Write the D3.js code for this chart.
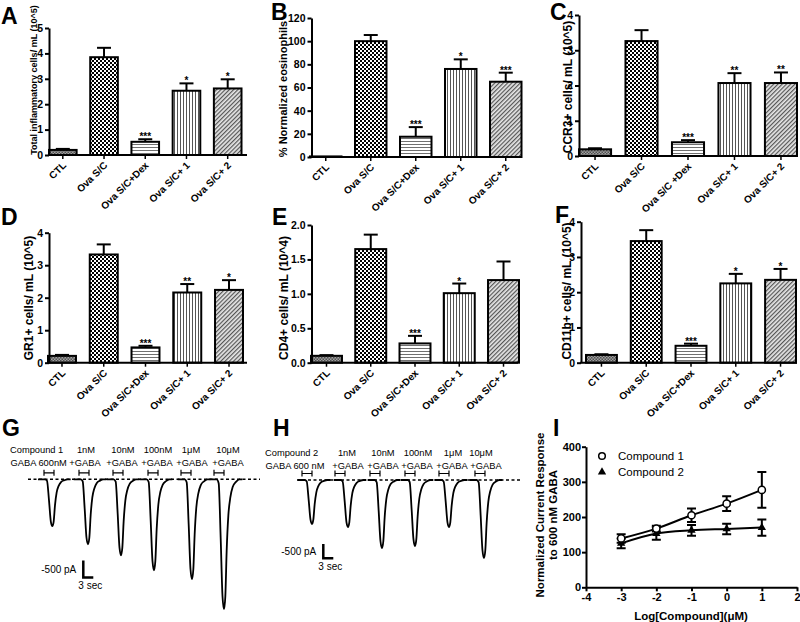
<!DOCTYPE html>
<html><head><meta charset="utf-8">
<script src="https://cdn.jsdelivr.net/npm/d3@7"></script>
<style>
body{margin:0;background:#fff}
svg{display:block}
text{font-family:"Liberation Sans",Arial,Helvetica,sans-serif;fill:#000}
</style>
</head><body>
<svg id="c" width="800" height="622"></svg>
<script>
// ---------------- DATA ----------------
const categories  = ["CTL","Ova S/C","Ova S/C+Dex","Ova S/C+ 1","Ova S/C+ 2"];
const categoriesC = ["CTL","Ova S/C","Ova S/C +Dex","Ova S/C+ 1","Ova S/C+ 2"];

const valuesA = [0.2, 3.85, 0.52, 2.53, 2.62];
const errA    = [0.04, 0.37, 0.10, 0.29, 0.36];
const starsA  = ["", "", "***", "*", "*"];
const ticksA  = [0,1,2,3,4,5];

const valuesB = [0.5, 100, 17.5, 76, 65];
const errB    = [0, 5.3, 8.3, 8.3, 7.8];
const starsB  = ["", "", "***", "*", "***"];
const ticksB  = [0,20,40,60,80,100,120];

const valuesC = [0.19, 3.26, 0.39, 2.07, 2.07];
const errC    = [0.03, 0.31, 0.06, 0.28, 0.30];
const starsC  = ["", "", "***", "**", "**"];
const ticksC  = [0,1,2,3,4];

const valuesD = [0.21, 3.33, 0.47, 2.16, 2.24];
const errD    = [0.03, 0.31, 0.05, 0.26, 0.30];
const starsD  = ["", "", "***", "**", "*"];
const ticksD  = [0,1,2,3,4];

const valuesE = [0.1, 1.65, 0.28, 1.01, 1.2];
const errE    = [0.01, 0.21, 0.11, 0.14, 0.27];
const starsE  = ["", "", "***", "*", ""];
const ticksE  = [0,0.5,1.0,1.5,2.0];

const valuesF = [0.22, 3.45, 0.48, 2.25, 2.35];
const errF    = [0.02, 0.31, 0.06, 0.27, 0.31];
const starsF  = ["", "", "***", "*", "*"];
const ticksF  = [0,1,2,3,4];

// Electrophysiology traces (G, H)
const concLabels   = ["1nM","10nM","100nM","1\u03bcM","10\u03bcM"];
const gPeakTimes   = [7.3, 18.0, 27.9, 37.8, 49.2, 58.8];        // s
const gAmplitudes  = [-1380, -1910, -2235, -2675, -2940, -3820]; // pA
const gApplyStart  = [4.8, 15.3, 25.5, 36.0, 45.9, 55.8];        // s
const hPeakTimes   = [4.5, 15.3, 25.5, 35.4, 45.6, 56.1];
const hAmplitudes  = [-1540, -1645, -2380, -2310, -1645, -2730];
const hApplyStart  = [1.5, 11.4, 21.9, 32.4, 42.6, 53.4];
const applyDuration = 3; // s
// normalised response waveform (time offset s, fraction of peak)
const pulseShape = [[-4.3,0],[-2.2,0],[-1.6,0.03],[-1.0,0.45],[-0.45,0.9],[0,1],[0.4,0.9],
                    [0.8,0.55],[1.3,0.28],[1.9,0.14],[2.6,0.06],[3.6,0.02],[4.6,0],[5.5,0]];

// Dose-response (I)
const logConc  = [-3, -2, -1, 0, 1];
const c1Mean   = [139, 167, 205, 238, 277];
const c1Err    = [12, 8, 19, 21, 51];
const c2Mean   = [125, 153, 162, 166, 170];
const c2Err    = [14, 18, 15, 15, 23];
const iTicksX  = [-4,-3,-2,-1,0,1,2];
const iTicksY  = [0,100,200,300,400];

// ---------------- DRAWING ----------------
const svg = d3.select("#c");
const defs = svg.append("defs");
const FONT = '"Liberation Sans",Arial,sans-serif';

function pattern(id, size, draw, transform){
  const p = defs.append("pattern").attr("id", id)
    .attr("patternUnits","userSpaceOnUse").attr("width", size).attr("height", size);
  if (transform) p.attr("patternTransform", transform);
  draw(p, size);
}
pattern("pCTL", 3, (p,s)=>{
  p.append("rect").attr("width",s).attr("height",s).attr("fill","#a0a0a0");
  p.append("rect").attr("width",1.5).attr("height",1.5).attr("fill","#505050");
  p.append("rect").attr("x",1.5).attr("y",1.5).attr("width",1.5).attr("height",1.5).attr("fill","#505050");
});
pattern("pOva", 4, (p,s)=>{
  p.append("rect").attr("width",s).attr("height",s).attr("fill","#fff");
  p.append("rect").attr("width",2).attr("height",2).attr("fill","#000");
  p.append("rect").attr("x",2).attr("y",2).attr("width",2).attr("height",2).attr("fill","#000");
});
pattern("pDex", 3, (p,s)=>{
  p.append("rect").attr("width",s).attr("height",s).attr("fill","#fff");
  p.append("rect").attr("width",s).attr("height",1).attr("fill","#707070");
});
pattern("p1", 3, (p,s)=>{
  p.append("rect").attr("width",s).attr("height",s).attr("fill","#fff");
  p.append("rect").attr("width",1).attr("height",s).attr("fill","#555");
});
pattern("p2", 3, (p,s)=>{
  p.append("rect").attr("width",s).attr("height",s).attr("fill","#e6e6e6");
  p.append("rect").attr("width",1.2).attr("height",s).attr("fill","#555");
}, "rotate(45)");
const fills = ["url(#pCTL)","url(#pOva)","url(#pDex)","url(#p1)","url(#p2)"];

function letter(t, x, y){
  svg.append("text").attr("x",x).attr("y",y).attr("font-size",23).attr("font-weight","bold").attr("fill","#000").text(t);
}

function barPanel(cfg){
  const g = svg.append("g");
  const y = d3.scaleLinear().domain([0, cfg.max]).range([cfg.y0, cfg.yTop]);
  const x = d3.scaleBand().domain(cfg.cats).range(cfg.band).paddingInner(cfg.pad).paddingOuter(0);
  const bw = x.bandwidth();
  const data = cfg.cats.map((c,i)=>({c, v:cfg.values[i], e:cfg.err[i], s:cfg.stars[i], f:fills[i]}));

  // bars
  g.selectAll("rect.bar").data(data).join("rect").attr("class","bar")
    .attr("x", d=>x(d.c)).attr("width", bw)
    .attr("y", d=>y(d.v)).attr("height", d=>Math.max(0, y(0)-y(d.v)))
    .attr("fill", d=>d.f).attr("stroke","#000").attr("stroke-width",2);
  // error bars
  const eb = data.filter(d=>d.e>0);
  g.selectAll("line.err").data(eb).join("line")
    .attr("x1", d=>x(d.c)+bw/2).attr("x2", d=>x(d.c)+bw/2)
    .attr("y1", d=>y(d.v)).attr("y2", d=>y(d.v+d.e))
    .attr("stroke","#000").attr("stroke-width",2);
  g.selectAll("line.cap").data(eb).join("line")
    .attr("x1", d=>x(d.c)+bw/2-7).attr("x2", d=>x(d.c)+bw/2+7)
    .attr("y1", d=>y(d.v+d.e)).attr("y2", d=>y(d.v+d.e))
    .attr("stroke","#000").attr("stroke-width",2);
  // stars
  g.selectAll("text.star").data(data.filter(d=>d.s)).join("text")
    .attr("x", d=>x(d.c)+bw/2).attr("y", d=>y(d.v+d.e)+1)
    .attr("text-anchor","middle").attr("font-size",10).attr("font-weight","bold")
    .attr("fill","#000").text(d=>d.s);

  // y axis
  const ya = g.append("g").attr("transform",`translate(${cfg.ax},0)`)
    .call(d3.axisLeft(y).tickValues(cfg.ticks).tickSize(4).tickSizeOuter(0).tickPadding(2).tickFormat(cfg.fmt || d3.format("d")));
  ya.select(".domain").attr("stroke-width",2);
  ya.selectAll(".tick line").attr("stroke-width",2);
  ya.selectAll(".tick text").attr("font-size",10.5).attr("font-weight","bold").attr("font-family",FONT);
  // x axis
  g.append("line").attr("x1",cfg.ax-1).attr("x2",cfg.axEnd).attr("y1",cfg.y0).attr("y2",cfg.y0)
    .attr("stroke","#000").attr("stroke-width",2);
  g.selectAll("line.xt").data(cfg.cats).join("line")
    .attr("x1", d=>x(d)+bw/2).attr("x2", d=>x(d)+bw/2)
    .attr("y1", cfg.y0).attr("y2", cfg.y0+4).attr("stroke","#000").attr("stroke-width",1.5);
  g.selectAll("text.xl").data(cfg.cats).join("text")
    .attr("transform", d=>`translate(${x(d)+bw/2+4},${cfg.y0+11}) rotate(-45)`)
    .attr("text-anchor","end").attr("font-size",10).attr("font-weight","bold").text(d=>d);
  // y title
  g.append("text").attr("transform",`translate(${cfg.tx},${cfg.ty}) rotate(-90)`)
    .attr("text-anchor","middle").attr("font-size",cfg.tsize).attr("font-weight","bold").text(cfg.title);
  letter(cfg.letter, cfg.lx, cfg.ly);
}

barPanel({letter:"A", lx:1, ly:24, cats:categories, values:valuesA, err:errA, stars:starsA, ticks:ticksA, max:5,
  y0:155, yTop:28, ax:49, band:[49,241.5], pad:0.33, axEnd:247,
  title:"Total inflammatory cells/ mL (10^5)", tx:37, ty:80, tsize:9});
barPanel({letter:"B", lx:271, ly:20, cats:categories, values:valuesB, err:errB, stars:starsB, ticks:ticksB, max:120,
  y0:157, yTop:18, ax:311.5, band:[310,521.5], pad:0.3, axEnd:522,
  title:"% Normalized eosinophils", tx:287, ty:89, tsize:11});
barPanel({letter:"C", lx:550, ly:20, cats:categoriesC, values:valuesC, err:errC, stars:starsC, ticks:ticksC, max:4,
  y0:156, yTop:15, ax:579, band:[579,797], pad:0.31, axEnd:797,
  title:"CCR3+ cells/ mL (10^5)", tx:571.5, ty:87, tsize:12});
barPanel({letter:"D", lx:1, ly:225, cats:categories, values:valuesD, err:errD, stars:starsD, ticks:ticksD, max:4,
  y0:362.7, yTop:232.7, ax:49, band:[48,243], pad:0.33, axEnd:247,
  title:"GR1+ cells/ mL (10^5)", tx:33, ty:298, tsize:12});
barPanel({letter:"E", lx:272, ly:225, cats:categories, values:valuesE, err:errE, stars:starsE, ticks:ticksE, max:2,
  y0:362.7, yTop:225, ax:311.5, band:[311,519], pad:0.3, axEnd:518, fmt:d3.format(".1f"),
  title:"CD4+ cells/ mL (10^4)", tx:287.5, ty:298, tsize:12});
barPanel({letter:"F", lx:555, ly:223, cats:categories, values:valuesF, err:errF, stars:starsF, ticks:ticksF, max:4,
  y0:362.7, yTop:221.7, ax:581, band:[586,796], pad:0.31, axEnd:797,
  title:"CD11b+ cells/ mL (10^5)", tx:571, ty:291, tsize:12});

// ---------- traces ----------
function tracePanel(cfg){
  const g = svg.append("g");
  const x = d3.scaleLinear().domain(cfg.tDomain).range(cfg.xRange);
  const y = d3.scaleLinear().domain([0,-1000]).range([cfg.base, cfg.base+cfg.pxPer500*2]);
  // dashed baseline
  g.append("line").attr("x1",x(cfg.tDomain[0])).attr("x2",x(cfg.tDomain[1]))
    .attr("y1",y(0)).attr("y2",y(0)).attr("stroke","#000").attr("stroke-width",1.5)
    .attr("stroke-dasharray","3,2.5");
  const line = d3.line().x(d=>x(d[0])).y(d=>y(d[1])).curve(d3.curveMonotoneX);
  cfg.peaks.forEach((t,i)=>{
    const pts = pulseShape.map(p=>[t+p[0], cfg.amps[i]*p[1]]);
    g.append("path").attr("d", line(pts)).attr("fill","none").attr("stroke","#000").attr("stroke-width",1.8);
  });
  // application brackets
  cfg.apply.forEach(t=>{
    const x1 = x(t), x2 = x(t+applyDuration), yb = cfg.base-6.5;
    g.append("path").attr("d",`M${x1},${yb-3}V${yb+3}M${x1},${yb}H${x2}M${x2},${yb-3}V${yb+3}`)
      .attr("stroke","#000").attr("stroke-width",1.2).attr("fill","none");
  });
  // scale bar (500 pA, 3 s)
  const sx = cfg.sbX, sy = cfg.sbY;
  const h = y(-500)-y(0), w = x(3)-x(0);
  g.append("path").attr("d",`M${sx},${sy-h}V${sy}H${sx+w}`).attr("stroke","#000").attr("stroke-width",2.5).attr("fill","none");
  g.append("text").attr("x",sx-7).attr("y",sy-h/2+3.5).attr("text-anchor","end").attr("font-size",10).text("-500 pA");
  g.append("text").attr("x",sx-5).attr("y",sy+11.5).attr("font-size",10).text("3 sec");
  // header text
  const fs = 9.3;
  g.append("text").attr("x",cfg.hx).attr("y",cfg.hy).attr("font-size",fs).text(cfg.cmp);
  g.append("text").attr("x",cfg.hx+0.5).attr("y",cfg.hy+12.5).attr("font-size",fs).text(cfg.gaba);
  concLabels.forEach((c,i)=>{
    g.append("text").attr("x",cfg.labX[i]).attr("y",cfg.hy).attr("text-anchor","middle").attr("font-size",fs).text(c);
    g.append("text").attr("x",cfg.gabX[i]).attr("y",cfg.hy+12.5).attr("text-anchor","middle").attr("font-size",fs).text("+GABA");
  });
  letter(cfg.letter, cfg.lx, cfg.ly);
}
tracePanel({letter:"G", lx:2, ly:436, tDomain:[0,69.6], xRange:[28,260], base:479.3, pxPer500:17,
  peaks:gPeakTimes, amps:gAmplitudes, apply:gApplyStart, sbX:83.3, sbY:577.5,
  hx:10, hy:453, cmp:"Compound 1", gaba:"GABA 600nM",
  labX:[86,123,158,191,228], gabX:[85,122,157,192,228]});
tracePanel({letter:"H", lx:273, ly:436, tDomain:[0,67], xRange:[297,520.3], base:480, pxPer500:14.3,
  peaks:hPeakTimes, amps:hAmplitudes, apply:hApplyStart, sbX:323.3, sbY:558.3,
  hx:265, hy:456, cmp:"Compound 2", gaba:"GABA 600 nM",
  labX:[347,383,418,453,481], gabX:[348,383,417,452,486]});

// ---------- panel I ----------
(function(){
  const g = svg.append("g");
  const x = d3.scaleLinear().domain([-4,2]).range([586,797]);
  const y = d3.scaleLinear().domain([0,400]).range([587.3,446.7]);
  const xa = g.append("g").attr("transform",`translate(0,${y(0)})`)
    .call(d3.axisBottom(x).tickValues(iTicksX).tickSize(4).tickSizeOuter(0).tickPadding(2).tickFormat(d3.format("d")));
  const ya = g.append("g").attr("transform",`translate(${x(-4)},0)`)
    .call(d3.axisLeft(y).tickValues(iTicksY).tickSize(4).tickSizeOuter(0).tickPadding(1).tickFormat(d3.format("d")));
  [xa,ya].forEach(a=>{
    a.select(".domain").attr("stroke-width",2);
    a.selectAll(".tick line").attr("stroke-width",2);
    a.selectAll(".tick text").attr("font-size",11).attr("font-weight","bold").attr("font-family",FONT);
  });
  xa.selectAll(".tick text").text(d=>d<0 ? "-"+Math.abs(d) : d);

  const line = d3.line().x(d=>x(d[0])).y(d=>y(d[1])).curve(d3.curveMonotoneX);
  const s1 = logConc.map((c,i)=>[c,c1Mean[i],c1Err[i]]);
  const s2 = logConc.map((c,i)=>[c,c2Mean[i],c2Err[i]]);
  [s1,s2].forEach(s=>{
    g.append("path").attr("d",line(s)).attr("fill","none").attr("stroke","#000").attr("stroke-width",2);
    s.forEach(d=>{
      g.append("path").attr("d",`M${x(d[0])},${y(d[1]-d[2])}V${y(d[1]+d[2])}M${x(d[0])-4.5},${y(d[1]-d[2])}h9M${x(d[0])-4.5},${y(d[1]+d[2])}h9`)
        .attr("stroke","#000").attr("stroke-width",2).attr("fill","none");
    });
  });
  const tri = d3.symbol().type(d3.symbolTriangle).size(30);
  g.selectAll("path.t").data(s2).join("path").attr("d",tri)
    .attr("transform",d=>`translate(${x(d[0])},${y(d[1])})`).attr("fill","#000");
  g.selectAll("circle.c").data(s1).join("circle")
    .attr("cx",d=>x(d[0])).attr("cy",d=>y(d[1])).attr("r",3.6)
    .attr("fill","#fff").attr("stroke","#000").attr("stroke-width",1.5);

  // legend
  g.append("circle").attr("cx",602).attr("cy",456).attr("r",3.3).attr("fill","#fff").attr("stroke","#000").attr("stroke-width",1.5);
  g.append("text").attr("x",618).attr("y",460).attr("font-size",11.5).text("Compound 1");
  g.append("path").attr("d",tri).attr("transform","translate(602,472)").attr("fill","#000");
  g.append("text").attr("x",618).attr("y",476).attr("font-size",11.5).text("Compound 2");

  // titles
  g.append("text").attr("transform","translate(544,515) rotate(-90)").attr("text-anchor","middle")
    .attr("font-size",11.5).attr("font-weight","bold").text("Normalized Current Response");
  g.append("text").attr("transform","translate(557,515) rotate(-90)").attr("text-anchor","middle")
    .attr("font-size",11.5).attr("font-weight","bold").text("to 600 nM GABA");
  g.append("text").attr("x",691).attr("y",620).attr("text-anchor","middle")
    .attr("font-size",11.5).attr("font-weight","bold").text("Log[Compound](\u03bcM)");
  letter("I", 553, 436);
})();
</script>
</body></html>
